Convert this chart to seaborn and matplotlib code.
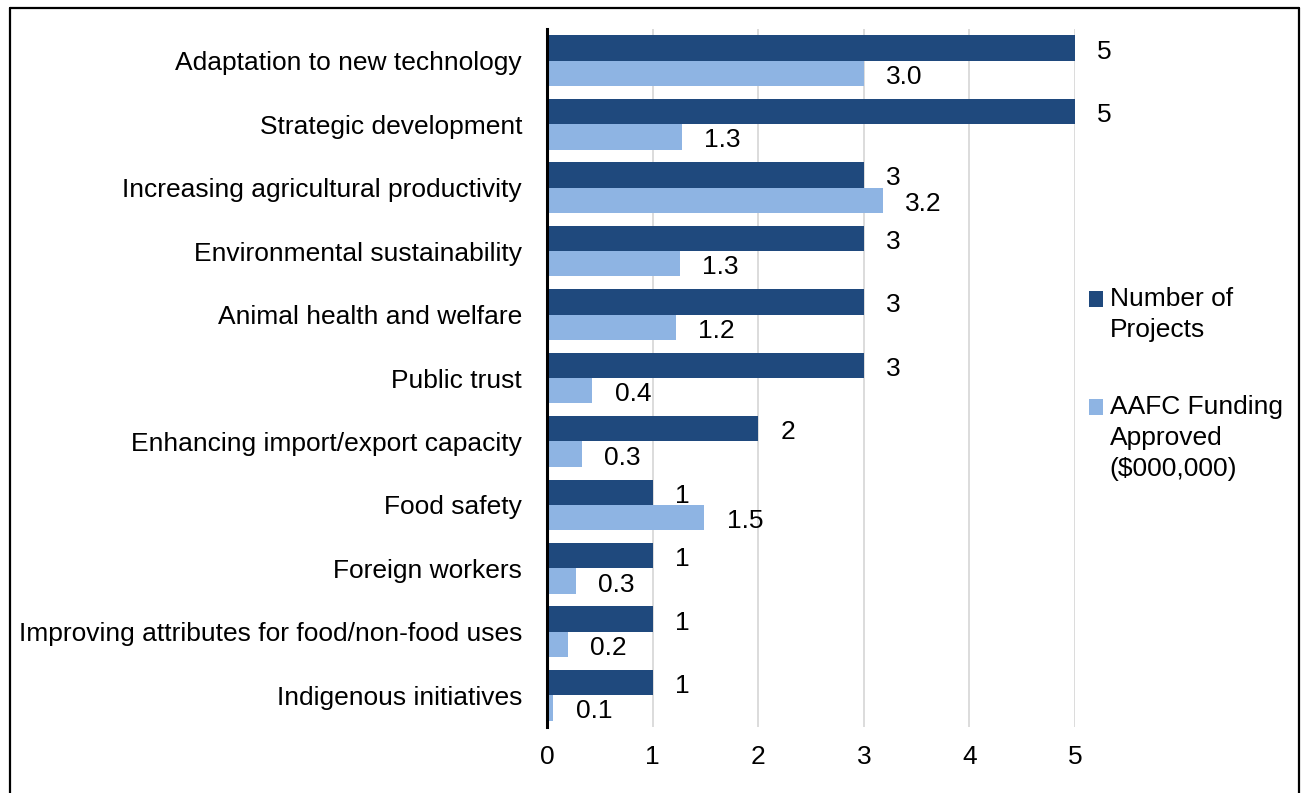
import matplotlib
matplotlib.use("Agg")
import matplotlib.pyplot as plt
from matplotlib.lines import Line2D
import seaborn as sns
import pandas as pd

categories = [
    "Adaptation to new technology",
    "Strategic development",
    "Increasing agricultural productivity",
    "Environmental sustainability",
    "Animal health and welfare",
    "Public trust",
    "Enhancing import/export capacity",
    "Food safety",
    "Foreign workers",
    "Improving attributes for food/non-food uses",
    "Indigenous initiatives",
]
projects = [5, 5, 3, 3, 3, 3, 2, 1, 1, 1, 1]
funding = [3.0, 1.28, 3.18, 1.26, 1.22, 0.43, 0.33, 1.49, 0.27, 0.2, 0.06]
series_names = ["Number of\nProjects", "AAFC Funding\nApproved\n($000,000)"]
tick_values = [0, 1, 2, 3, 4, 5]

df = pd.DataFrame({
    "category": categories * 2,
    "value": projects + funding,
    "series": [series_names[0]] * len(categories) + [series_names[1]] * len(categories),
})

sns.set_theme(style="white")
plt.rcParams["font.family"] = ["Liberation Sans", "DejaVu Sans"]
FS = 19
LINE_PT = 22.3  # legend line pitch in points

fig = plt.figure(figsize=(13.01, 7.93), dpi=100)
ax = fig.add_axes([547 / 1301, 1 - 727 / 793, (1075 - 547) / 1301, (727 - 29) / 793])

palette = {series_names[0]: "#1F497D", series_names[1]: "#8EB4E3"}
sns.barplot(data=df, x="value", y="category", hue="series", orient="h",
            palette=palette, width=0.8, saturation=1, linewidth=0,
            ax=ax, legend=True, zorder=3)

ax.set_xlim(0, 5)
ax.set_xticks(tick_values)
ax.set_xlabel("")
ax.set_ylabel("")
ax.grid(axis="x", color="#d9d9d9", linewidth=1.3, zorder=0)
ax.set_axisbelow(True)
for side in ["top", "right", "bottom"]:
    ax.spines[side].set_visible(False)
ax.spines["left"].set_color("black")
ax.spines["left"].set_linewidth(2.2)
ax.spines["left"].set_zorder(5)
ax.tick_params(axis="y", length=0, pad=18, labelsize=FS, labelcolor="black")
ax.tick_params(axis="x", length=0, pad=13, labelsize=FS, labelcolor="black")

# value labels: whole numbers for projects, one decimal for funding
containers = ax.containers
value_texts = []
value_texts += ax.bar_label(containers[0], labels=[f"{v:d}" for v in projects],
                            padding=16, fontsize=FS, color="black")
value_texts += ax.bar_label(containers[1], labels=[f"{v:.1f}" for v in funding],
                            padding=16, fontsize=FS, color="black")
for ann in value_texts:
    ann.xyann = (ann.xyann[0], -2.5)

leg = ax.legend(loc="upper left", bbox_to_anchor=(1078 / 1301, 1 - 276 / 793),
                bbox_transform=fig.transFigure, frameon=False, fontsize=FS,
                handlelength=0.55, handleheight=0.55, handletextpad=0.25,
                labelspacing=2.0, borderaxespad=0)
for t in leg.get_texts():
    t.set_color("black")
    t.set_linespacing(1.38)
# put each legend swatch beside the first line of its label
for patch, name in zip(leg.legend_handles, series_names):
    n_lines = name.count("\n") + 1
    patch.set_y(patch.get_y() + (n_lines - 1) / 2 * LINE_PT)

# outer frame around the figure (open at the bottom)
frame_kw = dict(color="black", linewidth=1.6, transform=fig.transFigure)
x0, x1, ytop = 10 / 1301, 1299 / 1301, 1 - 8 / 793
fig.add_artist(Line2D([x0, x0], [0, ytop], **frame_kw))
fig.add_artist(Line2D([x0, x1], [ytop, ytop], **frame_kw))
fig.add_artist(Line2D([x1, x1], [0, ytop], **frame_kw))

fig.savefig("out.png", dpi=100, facecolor="white")
